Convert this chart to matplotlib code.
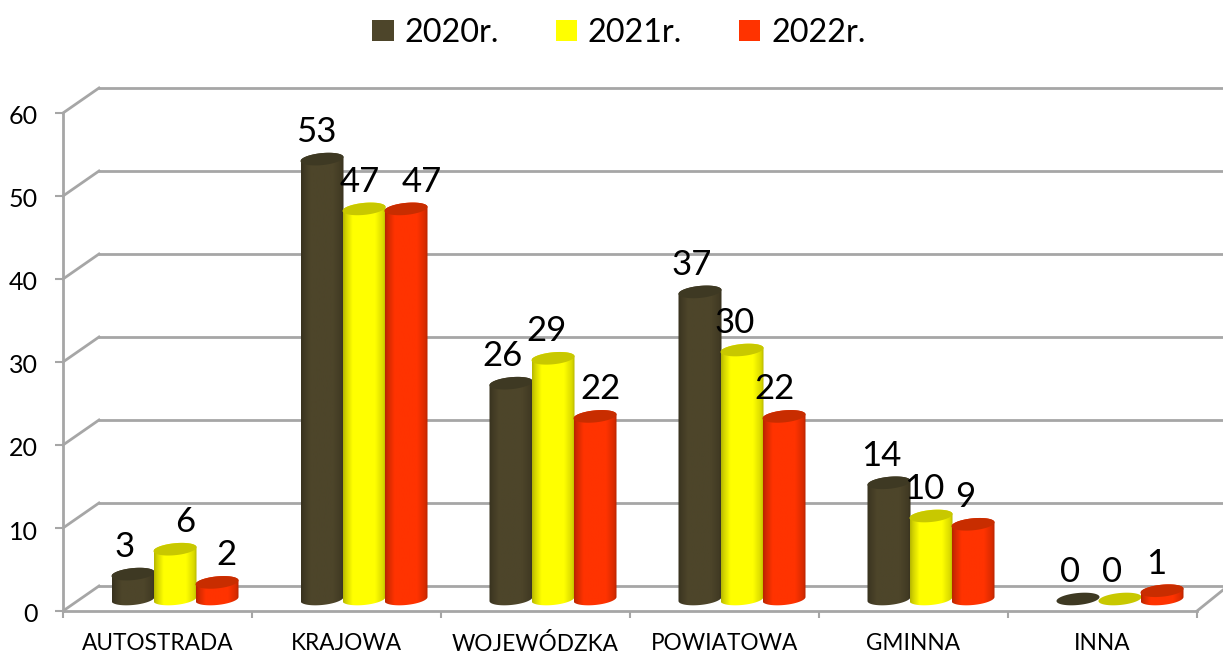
import numpy as np
from matplotlib import pyplot as plt
from matplotlib.patches import Patch, Polygon
from matplotlib.colors import to_rgb
from matplotlib.transforms import ScaledTranslation

plt.rcParams['font.family'] = ['Lato', 'DejaVu Sans']

categories = ['AUTOSTRADA', 'KRAJOWA', 'WOJEWÓDZKA', 'POWIATOWA', 'GMINNA', 'INNA']
years = ['2020r.', '2021r.', '2022r.']
v2020 = [3, 53, 26, 37, 14, 0]
v2021 = [6, 47, 29, 30, 10, 0]
v2022 = [2, 47, 22, 22, 9, 1]
yticks = [0, 10, 20, 30, 40, 50, 60]

colors = ['#4D452A', '#FFFF00', '#FF3300']
top_colors = ['#3E3923', '#C8C800', '#C82D00']

W, H = 1223, 654
fig = plt.figure(figsize=(W / 100, H / 100), dpi=100)
# front plane of the fake 3d box
ax = fig.add_axes([63 / W, 1 - 611 / H, (1197 - 63) / W, (611 - 113) / H])
ax.set_xlim(0, 6)
ax.set_ylim(0, 60)

px_x = 6 / (1197 - 63)
px_y = 60 / (611 - 113)
depth_x = 36 * px_x
depth_y = 25 * px_y
grid = '#A6A6A6'

# back wall lines and the slanted ones on the left
for t in yticks:
    ax.plot([depth_x, 6 + 26 * px_x], [t + depth_y, t + depth_y], color=grid, lw=2, clip_on=False, zorder=1)
    ax.plot([0, depth_x], [t, t + depth_y], color=grid, lw=2, clip_on=False, zorder=1)
ax.plot([6, 6 + 26 * px_x], [0, 21 * px_y], color=grid, lw=2, clip_on=False, zorder=1)

for s in ['top', 'right']:
    ax.spines[s].set_visible(False)
for s in ['left', 'bottom']:
    ax.spines[s].set_color(grid)
    ax.spines[s].set_linewidth(2)

ax.set_yticks(yticks)
ax.tick_params(axis='y', length=6, width=1.5, color=grid, labelsize=18, pad=12)
ax.set_xticks(range(7))
ax.set_xticklabels([])
ax.tick_params(axis='x', which='major', length=5, width=1.5, color=grid)
ax.set_xticks(np.arange(6) + 0.5, categories, minor=True)
ax.tick_params(axis='x', which='minor', length=0, labelsize=16.3, pad=15.5)

# y labels sit about 2px lower in the reference
shift = ScaledTranslation(0, -2 / 100, fig.dpi_scale_trans)
for lab in ax.get_yticklabels():
    lab.set_transform(lab.get_transform() + shift)

bar_w = 42 * px_x
half_w = 21.5 * px_x
half_h = 6 * px_y
tilt = 2 * px_y
base = 12 * px_y
center_off = 17.5 * px_x
label_gap = 27 * 0.72
# sideways nudges of the value labels, pixels
nudges = [[-8, 10, 9], [-6, -4, 16], [-9, -6, 5], [-8, -7, -9], [-8, -7, -8], [-8, -8, -6]]

t_low = np.linspace(np.pi, 2 * np.pi, 40)
t_all = np.linspace(0, 2 * np.pi, 80)
u = np.linspace(0, 1, 64)
shade = np.interp(u, [0, 0.06, 0.22, 0.75, 0.94, 1], [0.72, 0.82, 1, 1, 0.85, 0.72])

for k, vals in enumerate([v2020, v2021, v2022]):
    rgb = np.array(to_rgb(colors[k]))
    img = (shade[:, None] * rgb)[None, :, :]
    for i, v in enumerate(vals):
        cx = i + 0.5 + center_off + (k - 1) * bar_w
        y0 = base
        y1 = base + v
        z = 3 + k + i * 3
        if v > 0:
            low = np.c_[cx + half_w * np.cos(t_low), y0 + half_h * np.sin(t_low) + tilt * np.cos(t_low)]
            up = np.c_[cx + half_w * np.cos(t_low[::-1]), y1 - half_h * np.sin(t_low[::-1]) + tilt * np.cos(t_low[::-1])]
            poly = Polygon(np.r_[low, up], closed=True, transform=ax.transData, fc='none', ec='none')
            ax.add_patch(poly)
            im = ax.imshow(img, extent=(cx - half_w, cx + half_w, y0 - half_h - tilt, y1 + half_h + tilt),
                           aspect='auto', interpolation='bilinear', zorder=z)
            im.set_clip_path(poly)
        top = np.c_[cx + half_w * np.cos(t_all), y1 + half_h * np.sin(t_all) + tilt * np.cos(t_all)]
        ax.add_patch(Polygon(top, closed=True, fc=top_colors[k], ec='none', zorder=z + 0.5, clip_on=False))
        ax.annotate(str(v), (cx, y1), xytext=(nudges[i][k] * 0.72, label_gap), textcoords='offset points',
                    ha='center', va='center', fontsize=25, color='black', zorder=30, annotation_clip=False)

ax.set_xlim(0, 6)
ax.set_ylim(0, 60)

handles = [Patch(facecolor=c, edgecolor='none', label=y) for c, y in zip(colors, years)]
fig.legend(handles=handles, loc='center', bbox_to_anchor=(619 / W, 1 - 33 / H), ncol=3, frameon=False,
           fontsize=23.3, handlelength=0.65, handleheight=0.65, handletextpad=0.34, columnspacing=1.76)

fig.savefig('out.png', dpi=100)
